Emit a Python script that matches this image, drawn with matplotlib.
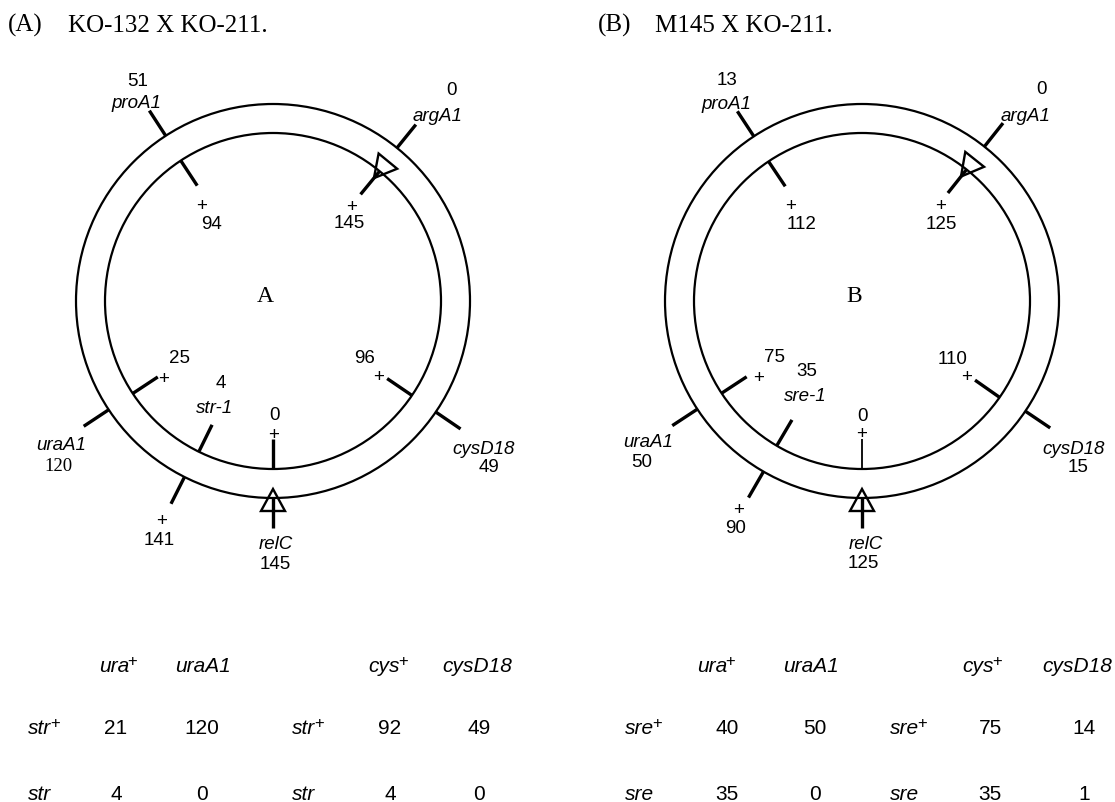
import numpy as np
import matplotlib.pyplot as plt
from matplotlib.patches import Circle, Polygon

SANS = 'Liberation Sans'
SERIF = 'Liberation Serif'

# ---- panel A : KO-132 X KO-211 ----
outer_angle_A = [123.0, 51.0, 213.5, 243.3, 270.0, 325.7]
outer_name_A = ['proA1', 'argA1', 'uraA1', '+', 'relC', 'cysD18']
outer_count_A = ['51', '0', '120', '141', '145', '49']
inner_angle_A = [123.3, 50.6, 213.4, 243.8, 270.0, 325.8]
inner_name_A = ['+', '+', '+', 'str-1', '+', '+']
inner_count_A = ['94', '145', '25', '4', '0', '96']

# ---- panel B : M145 X KO-211 ----
outer_angle_B = [123.3, 51.6, 213.3, 240.0, 270.0, 326.0]
outer_name_B = ['proA1', 'argA1', 'uraA1', '+', 'relC', 'cysD18']
outer_count_B = ['13', '0', '50', '90', '125', '15']
inner_angle_B = [123.8, 51.5, 213.3, 239.5, 270.0, 325.0]
inner_name_B = ['+', '+', '+', 'sre-1', '+', '+']
inner_count_B = ['112', '125', '75', '35', '0', '110']

# ---- tables ----
ura_cols = ['ura+', 'uraA1']
cys_cols = ['cys+', 'cysD18']
rows_A = ['str+', 'str']
rows_B = ['sre+', 'sre']
ura_A = [[21, 120], [4, 0]]
cys_A = [[92, 49], [4, 0]]
ura_B = [[40, 50], [35, 0]]
cys_B = [[75, 14], [35, 1]]

# label nudges (pixels, x right / y down) relative to the tick ends
name_off_out_A = [(-13, -10), (22, -11), (-23, 16), (-9, 15), (3, 14), (23, 18)]
count_off_out_A = [(-12, -32), (36, -37), (-25, 37), (-12, 34), (2, 34), (28, 36)]
name_off_in_A = [(4, 18), (-9, 10), (6, 0), (2, -19), (1, -6), (-9, -4)]
count_off_in_A = [(14, 36), (-11, 26), (22, -21), (9, -44), (1, -26), (-23, -23)]

name_off_out_B = [(-11, -10), (23, -10), (-24, 14), (-10, 10), (4, 14), (23, 19)]
count_off_out_B = [(-10, -34), (38, -37), (-31, 34), (-13, 28), (1, 33), (28, 37)]
name_off_in_B = [(5, 17), (-7, 10), (12, -1), (13, -26), (0, -7), (-8, -6)]
count_off_in_B = [(16, 35), (-7, 28), (28, -22), (15, -51), (0, -25), (-22, -24)]

R_OUT, R_IN, TICK = 197, 168, 30
FS = 13.5
FS_TAB = 15

fig = plt.figure(figsize=(11.15, 8.03), dpi=100)
ax = fig.add_axes([0, 0, 1, 1])
ax.set_xlim(0, 1115)
ax.set_ylim(803, 0)
ax.axis('off')


def polar(c, rad, ang):
    a = np.deg2rad(ang)
    return c[0] + rad * np.cos(a), c[1] - rad * np.sin(a)


def put(xy, off, s, italic=False, family=SANS, size=FS):
    style = 'italic' if (italic and s != '+') else 'normal'
    ax.text(xy[0] + off[0], xy[1] + off[1] + 6.5, s, ha='center', va='baseline',
            fontsize=size, family=family, style=style)


def gene(x, y, s, ha):
    # italic gene symbol, a trailing '+' is drawn as an upright superscript
    plus = s.endswith('+')
    t = ax.text(x, y, s.rstrip('+'), ha=ha, va='baseline', fontsize=FS_TAB,
                family=SANS, style='italic')
    if plus:
        ax.annotate('+', xy=(1, 0.55), xycoords=t, xytext=(-1, 0),
                    textcoords='offset points', ha='left', va='baseline',
                    fontsize=FS_TAB * 0.8, family=SANS)


def triangle(c, rc, ang):
    a = np.deg2rad(ang)
    u = np.array([np.cos(a), -np.sin(a)])
    v = np.array([np.sin(a), np.cos(a)])
    c = np.array(c)
    apex = c + (rc - 9) * u
    b1 = c + (rc + 13) * u + 12 * v
    b2 = c + (rc + 13) * u - 12 * v
    ax.add_patch(Polygon([apex, b1, b2], closed=True, fill=False, lw=1.7, ec='black'))


def draw_map(c, letter, oa, on, oc, ia, inn, ic, offs, count_fonts, inner_lw):
    ax.add_patch(Circle(c, R_OUT, fill=False, lw=1.6, ec='black'))
    ax.add_patch(Circle(c, R_IN, fill=False, lw=1.6, ec='black'))
    ax.text(c[0] - 8, c[1], letter, family=SERIF, fontsize=17, ha='center', va='baseline')
    no, co, ni, ci = offs
    for k, ang in enumerate(oa):
        p0 = polar(c, R_OUT, ang)
        p1 = polar(c, R_OUT + TICK, ang)
        ax.plot([p0[0], p1[0]], [p0[1], p1[1]], color='black', lw=2.4, solid_capstyle='butt')
        put(p1, no[k], on[k], italic=True)
        put(p1, co[k], oc[k], family=count_fonts[k])
    for k, ang in enumerate(ia):
        p0 = polar(c, R_IN, ang)
        p1 = polar(c, R_IN - TICK, ang)
        ax.plot([p0[0], p1[0]], [p0[1], p1[1]], color='black', lw=inner_lw[k],
                solid_capstyle='butt')
        put(p1, ni[k], inn[k], italic=True)
        put(p1, ci[k], ic[k])
    triangle(c, R_OUT, oa[4])
    triangle(c, R_IN, ia[1])


def draw_table(x_rows, x_head, x_num, rows, cols1, cols2, v1, v2):
    ys = [672, 734, 800]
    for j, name in enumerate(cols1 + cols2):
        gene(x_head[j], ys[0], name, 'center')
    for i, rname in enumerate(rows):
        for xr in x_rows:
            gene(xr, ys[i + 1], rname, 'left')
        vals = list(v1[i]) + list(v2[i])
        for j, v in enumerate(vals):
            ax.text(x_num[j], ys[i + 1], str(v), ha='center', va='baseline',
                    fontsize=FS_TAB, family=SANS)


# titles
ax.text(8, 32, '(A)', family=SERIF, fontsize=18, va='baseline')
ax.text(68, 32, 'KO-132 X KO-211.', family=SERIF, fontsize=18, va='baseline')
ax.text(598, 32, '(B)', family=SERIF, fontsize=18, va='baseline')
ax.text(655, 32, 'M145 X KO-211.', family=SERIF, fontsize=18, va='baseline')

draw_map((273, 302), 'A', outer_angle_A, outer_name_A, outer_count_A,
         inner_angle_A, inner_name_A, inner_count_A,
         (name_off_out_A, count_off_out_A, name_off_in_A, count_off_in_A),
         [SANS, SANS, SERIF, SANS, SANS, SANS], [2.4] * 6)
draw_map((862, 302), 'B', outer_angle_B, outer_name_B, outer_count_B,
         inner_angle_B, inner_name_B, inner_count_B,
         (name_off_out_B, count_off_out_B, name_off_in_B, count_off_in_B),
         [SANS] * 6, [2.4, 2.4, 2.4, 2.4, 1.3, 2.4])

draw_table([28, 292], [114, 203, 384, 477], [116, 202, 390, 479],
           rows_A, ura_cols, cys_cols, ura_A, cys_A)
draw_table([625, 890], [712, 811, 978, 1077], [727, 815, 990, 1084],
           rows_B, ura_cols, cys_cols, ura_B, cys_B)

fig.savefig('out.png', dpi=100, facecolor='white')
